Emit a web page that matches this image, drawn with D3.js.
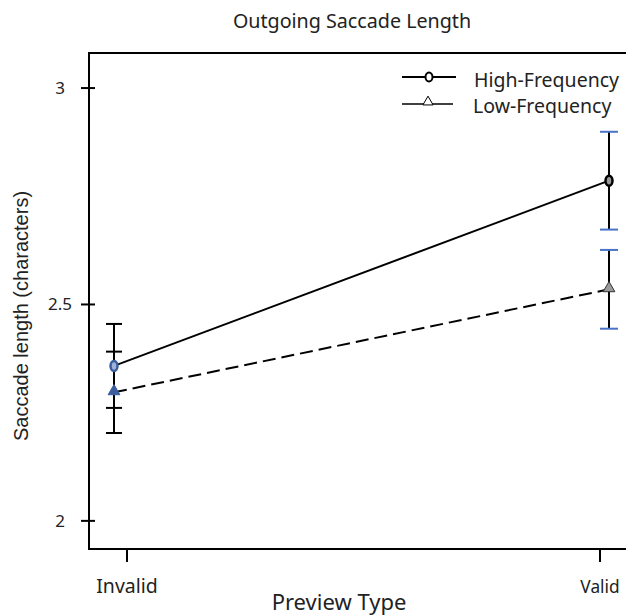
<!DOCTYPE html>
<html>
<head>
<meta charset="utf-8">
<script src="https://cdn.jsdelivr.net/npm/d3@7"></script>
<style>
  body { margin: 0; background: #fff; }
  text { font-family: "Noto Sans", "Open Sans", sans-serif; fill: #222; }
</style>
</head>
<body>
<div id="chart"></div>
<script>
// data
var categories = ["Invalid", "Valid"];
var highMean = [2.358, 2.786];
var highErr = [0.097, 0.113];
var lowMean = [2.297, 2.535];
var lowErr = [0.094, 0.091];
var yTicks = [2, 2.5, 3];

function init(){
	var w = 626, h = 616;

	var svg = d3.select("#chart").append("svg")
		.attr("width", w)
		.attr("height", h);

	// frame edges
	var left = 89, top = 53, bottom = 549;

	var y = d3.scaleLinear().domain([1.935, 3.081]).range([bottom, top]);
	// axis tick positions
	var xAxisScale = d3.scalePoint().domain(categories).range([127, 600]);
	// points sit a bit off the ticks in the original
	var xPts = d3.scalePoint().domain(categories).range([114, 609]);

	// frame lines
	svg.append("line").attr("x1", left).attr("x2", w + 5).attr("y1", top).attr("y2", top)
		.attr("stroke", "#000").attr("stroke-width", 2);
	svg.append("line").attr("x1", left).attr("x2", w + 5).attr("y1", bottom).attr("y2", bottom)
		.attr("stroke", "#000").attr("stroke-width", 2);
	svg.append("line").attr("x1", left).attr("x2", left).attr("y1", top - 1).attr("y2", bottom + 1)
		.attr("stroke", "#000").attr("stroke-width", 2);

	// y ticks (crossing the axis)
	var yAxis = svg.append("g");
	yAxis.selectAll("line").data(yTicks).enter().append("line")
		.attr("x1", left - 8).attr("x2", left + 6)
		.attr("y1", function(d){ return y(d); })
		.attr("y2", function(d){ return y(d); })
		.attr("stroke", "#000").attr("stroke-width", 2);
	yAxis.selectAll("text").data(yTicks).enter().append("text")
		.attr("x", 60).attr("y", function(d){ return y(d); })
		.attr("dy", "0.35em")
		.attr("text-anchor", "middle")
		.style("font-size", "17px")
		.text(function(d){ return d; });

	// x ticks
	var xAxis = svg.append("g");
	xAxis.selectAll("line").data(categories).enter().append("line")
		.attr("x1", function(d){ return xAxisScale(d); })
		.attr("x2", function(d){ return xAxisScale(d); })
		.attr("y1", bottom).attr("y2", bottom + 13)
		.attr("stroke", "#000").attr("stroke-width", 2);
	xAxis.selectAll("text").data(categories).enter().append("text")
		.attr("x", function(d){ return xAxisScale(d); })
		.attr("y", 593)
		.attr("text-anchor", "middle")
		.style("font-size", function(d, i){ return i == 0 ? "19.5px" : "17.3px"; })
		.text(function(d){ return d; });

	// titles
	svg.append("text").attr("x", 352).attr("y", 28).attr("text-anchor", "middle")
		.style("font-size", "19.7px").text("Outgoing Saccade Length");
	svg.append("text").attr("x", 339).attr("y", 610).attr("text-anchor", "middle")
		.style("font-size", "22px").text("Preview Type");
	svg.append("text")
		.attr("transform", "translate(28,316) rotate(-90)")
		.attr("text-anchor", "middle")
		.style("font-family", "'Liberation Sans', Arial, sans-serif")
		.style("font-size", "20px")
		.text("Saccade length (characters)");

	var line = d3.line()
		.x(function(d, i){ return xPts(categories[i]); })
		.y(function(d){ return y(d); });

	svg.append("path").datum(highMean).attr("d", line)
		.attr("fill", "none").attr("stroke", "#000").attr("stroke-width", 2);
	svg.append("path").datum(lowMean).attr("d", line)
		.attr("fill", "none").attr("stroke", "#000").attr("stroke-width", 2)
		.attr("stroke-dasharray", "13,6");

	var capColor = ["#000", "#4a72c8"];
	var capHalf = [8, 9];

	function errorBars(mean, err){
		var g = svg.append("g");
		mean.forEach(function(m, i){
			var x = xPts(categories[i]);
			g.append("line").attr("x1", x).attr("x2", x)
				.attr("y1", y(m + err[i])).attr("y2", y(m - err[i]))
				.attr("stroke", "#000").attr("stroke-width", 2);
			[m + err[i], m - err[i]].forEach(function(v){
				g.append("line").attr("x1", x - capHalf[i]).attr("x2", x + capHalf[i])
					.attr("y1", y(v)).attr("y2", y(v))
					.attr("stroke", capColor[i]).attr("stroke-width", 2);
			});
		});
	}
	errorBars(highMean, highErr);
	errorBars(lowMean, lowErr);

	// markers
	var tri = d3.symbol().type(d3.symbolTriangle).size(60);
	lowMean.forEach(function(m, i){
		svg.append("path").attr("d", tri)
			.attr("transform", "translate(" + xPts(categories[i]) + "," + (y(m) - 1) + ")")
			.attr("fill", i == 0 ? "#3a5d9c" : "#9a9a9a")
			.attr("stroke", i == 0 ? "#3a5d9c" : "#333").attr("stroke-width", 1);
	});
	highMean.forEach(function(m, i){
		svg.append("ellipse")
			.attr("cx", xPts(categories[i])).attr("cy", y(m))
			.attr("rx", 3.5).attr("ry", 5)
			.attr("fill", i == 0 ? "#9fb3d6" : "#999")
			.attr("stroke", i == 0 ? "#3a5d9c" : "#000").attr("stroke-width", 2.5);
	});

	// legend
	var legend = svg.append("g");
	legend.append("line").attr("x1", 402).attr("x2", 456).attr("y1", 77).attr("y2", 77)
		.attr("stroke", "#000").attr("stroke-width", 2);
	legend.append("ellipse").attr("cx", 429).attr("cy", 77).attr("rx", 3.5).attr("ry", 4.5)
		.attr("fill", "#fff").attr("stroke", "#000").attr("stroke-width", 2);
	legend.append("text").attr("x", 474).attr("y", 80).attr("dy", "0.35em")
		.style("font-size", "19.5px").text("High-Frequency");
	legend.append("line").attr("x1", 402).attr("x2", 453).attr("y1", 104).attr("y2", 104)
		.attr("stroke", "#000").attr("stroke-width", 1.5);
	legend.append("path").attr("d", d3.symbol().type(d3.symbolTriangle).size(45))
		.attr("transform", "translate(428,102)")
		.attr("fill", "#fff").attr("stroke", "#000").attr("stroke-width", 1);
	legend.append("text").attr("x", 473).attr("y", 106).attr("dy", "0.35em")
		.style("font-size", "19.5px").text("Low-Frequency");
}

window.onload = init;
</script>
</body>
</html>
